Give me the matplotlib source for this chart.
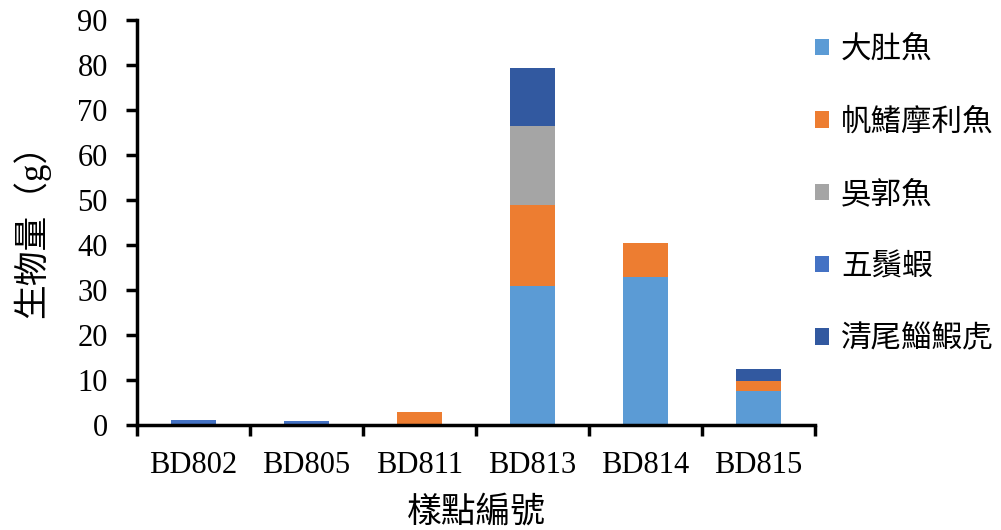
import matplotlib
matplotlib.use("Agg")
import matplotlib.pyplot as plt
import numpy as np

plt.rcParams['font.family'] = ['Liberation Serif', 'Noto Sans CJK TC', 'DejaVu Sans']

sites = ["BD802", "BD805", "BD811", "BD813", "BD814", "BD815"]
species = ["大肚魚", "帆鰭摩利魚", "吳郭魚", "五鬚蝦", "清尾鯔鰕虎"]
colors = ["#5B9BD5", "#ED7D31", "#A5A5A5", "#4472C4", "#3259A0"]

# biomass (g) per species at each site
mosquitofish = [0.0, 0.0, 0.0, 30.9, 32.9, 7.6]
sailfin_molly = [0.0, 0.0, 3.0, 18.0, 7.5, 2.2]
tilapia = [0.0, 0.0, 0.0, 17.5, 0.0, 0.0]
shrimp = [1.1, 0.8, 0.0, 0.0, 0.0, 0.0]
goby = [0.0, 0.0, 0.0, 12.9, 0.0, 2.6]
series = [mosquitofish, sailfin_molly, tilapia, shrimp, goby]

fig = plt.figure(figsize=(10.01, 5.30), dpi=100)
ax = fig.add_axes([137 / 1001, 105 / 530, 678 / 1001, 405 / 530])

x = np.arange(len(sites))
bottom = np.zeros(len(sites))
for name, vals, c in zip(species, series, colors):
    v = np.array(vals)
    ax.bar(x, v, width=0.4, bottom=bottom, color=c, label=name, edgecolor='none', zorder=2)
    bottom += v

ax.set_xlim(-0.5, len(sites) - 0.5)
ax.set_ylim(0, 90)
ax.set_yticks(np.arange(0, 91, 10))

# category boundaries carry the tick marks; labels sit at the centres
ax.set_xticks(np.arange(-0.5, len(sites), 1.0))
ax.set_xticklabels([])
ax.set_xticks(x, minor=True)
ax.set_xticklabels(sites, minor=True)
ax.tick_params(axis='x', which='major', direction='out', length=8, width=2.5)
ax.tick_params(axis='x', which='minor', length=0, pad=19, labelsize=22)
ax.tick_params(axis='y', direction='out', length=8, width=2.5, pad=13, labelsize=22)

for s in ['top', 'right']:
    ax.spines[s].set_visible(False)
for s in ['left', 'bottom']:
    ax.spines[s].set_linewidth(2.5)

ax.set_ylabel("生物量（g）", fontsize=25, labelpad=20)
ax.set_xlabel("樣點編號", fontsize=25, labelpad=12)

leg = fig.legend(loc='upper left', bbox_to_anchor=(815 / 1001, 1 - 36 / 530),
                 frameon=False, fontsize=22, handlelength=0.45, handleheight=0.45,
                 handletextpad=0.4, labelspacing=1.42, borderpad=0, borderaxespad=0)

fig.savefig("out.png", dpi=100)
